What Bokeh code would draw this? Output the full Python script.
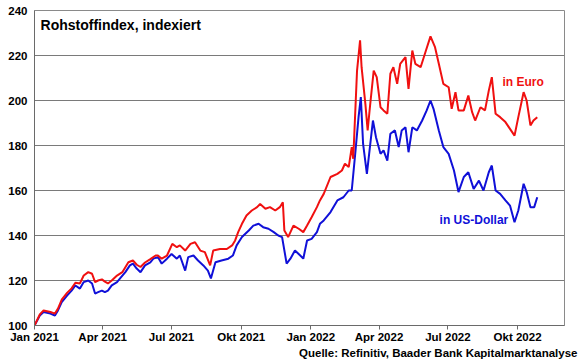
import pandas as pd
from bokeh.plotting import figure
from bokeh.models import Range1d, FixedTicker, CustomJSTickFormatter, Label, Title
from bokeh.embed import file_html
from bokeh.resources import INLINE

# ---------------- data ----------------
euro_dates = [
    "2021-01-01", "2021-01-08", "2021-01-13", "2021-01-22", "2021-01-28", "2021-02-01",
    "2021-02-06", "2021-02-13", "2021-02-19", "2021-02-24", "2021-03-02", "2021-03-07",
    "2021-03-13", "2021-03-18", "2021-03-22", "2021-03-26", "2021-03-31", "2021-04-04",
    "2021-04-08", "2021-04-13", "2021-04-20", "2021-04-27", "2021-05-05", "2021-05-11",
    "2021-05-16", "2021-05-21", "2021-05-27", "2021-06-03", "2021-06-10", "2021-06-13",
    "2021-06-18", "2021-06-25", "2021-07-02", "2021-07-08", "2021-07-12", "2021-07-19",
    "2021-07-26", "2021-08-01", "2021-08-08", "2021-08-14", "2021-08-21", "2021-08-25",
    "2021-09-03", "2021-09-12", "2021-09-19", "2021-09-23", "2021-09-27", "2021-10-02",
    "2021-10-08", "2021-10-15", "2021-10-22", "2021-10-26", "2021-11-02", "2021-11-08",
    "2021-11-15", "2021-11-21", "2021-11-25", "2021-11-27", "2021-12-02", "2021-12-09",
    "2021-12-16", "2021-12-22", "2021-12-27", "2022-01-02", "2022-01-09", "2022-01-13",
    "2022-01-18", "2022-01-27", "2022-02-05", "2022-02-11", "2022-02-15", "2022-02-20",
    "2022-02-24", "2022-02-26", "2022-03-03", "2022-03-07", "2022-03-09", "2022-03-14",
    "2022-03-17", "2022-03-20", "2022-03-25", "2022-03-29", "2022-04-03", "2022-04-07",
    "2022-04-12", "2022-04-16", "2022-04-20", "2022-04-25", "2022-04-29", "2022-05-06",
    "2022-05-10", "2022-05-15", "2022-05-19", "2022-05-26", "2022-06-02", "2022-06-08",
    "2022-06-14", "2022-06-19", "2022-06-25", "2022-07-02", "2022-07-06", "2022-07-11",
    "2022-07-15", "2022-07-22", "2022-07-28", "2022-08-02", "2022-08-06", "2022-08-13",
    "2022-08-19", "2022-08-24", "2022-08-28", "2022-09-02", "2022-09-08", "2022-09-15",
    "2022-09-21", "2022-09-27", "2022-10-02", "2022-10-09", "2022-10-13", "2022-10-18",
    "2022-10-22", "2022-10-27",
]
euro_values = [
    100.0, 104.9, 106.7, 106.0, 105.3, 107.5,
    111.5, 114.5, 116.5, 119.0, 118.7, 122.2,
    123.7, 123.0, 119.3, 120.0, 120.5, 119.5,
    118.7, 120.0, 122.2, 123.7, 128.1, 128.9,
    127.0, 126.0, 128.0, 129.5, 131.1, 131.1,
    129.7, 131.1, 136.3, 134.8, 135.6, 133.3,
    136.3, 137.0, 133.3, 132.6, 126.7, 133.3,
    134.0, 134.0, 135.6, 137.8, 141.5, 145.2,
    148.9, 151.1, 152.6, 154.0, 151.9, 152.6,
    151.1, 152.6, 154.8, 142.2, 139.3, 144.4,
    143.0, 141.5, 144.4, 148.1, 152.6, 155.6,
    158.5, 166.0, 167.4, 168.9, 171.9, 170.4,
    179.3, 174.1, 213.3, 226.7, 214.8, 198.5,
    186.7, 197.0, 213.3, 210.4, 197.0, 195.6,
    194.1, 211.9, 214.8, 207.4, 216.3, 219.3,
    205.2, 222.2, 216.3, 214.8, 222.2, 228.5,
    223.7, 216.3, 207.4, 205.9, 196.3, 203.7,
    195.6, 195.6, 202.2, 194.8, 191.1, 197.0,
    195.6, 204.4, 210.4, 194.1, 192.6, 190.4,
    187.4, 184.4, 192.6, 203.7, 200.0, 188.9,
    191.1, 192.6,
]

usd_dates = [
    "2021-01-01", "2021-01-08", "2021-01-13", "2021-01-22", "2021-01-28", "2021-02-01",
    "2021-02-06", "2021-02-13", "2021-02-19", "2021-02-24", "2021-03-02", "2021-03-07",
    "2021-03-13", "2021-03-18", "2021-03-22", "2021-03-26", "2021-03-31", "2021-04-04",
    "2021-04-08", "2021-04-13", "2021-04-20", "2021-04-24", "2021-05-01", "2021-05-07",
    "2021-05-11", "2021-05-16", "2021-05-21", "2021-05-27", "2021-06-03", "2021-06-07",
    "2021-06-13", "2021-06-18", "2021-06-25", "2021-07-01", "2021-07-08", "2021-07-12",
    "2021-07-19", "2021-07-23", "2021-07-30", "2021-08-05", "2021-08-12", "2021-08-18",
    "2021-08-22", "2021-08-28", "2021-09-05", "2021-09-14", "2021-09-20", "2021-09-25",
    "2021-10-02", "2021-10-11", "2021-10-17", "2021-10-24", "2021-10-30", "2021-11-06",
    "2021-11-13", "2021-11-19", "2021-11-24", "2021-11-30", "2021-12-05", "2021-12-11",
    "2021-12-18", "2021-12-22", "2021-12-27", "2022-01-02", "2022-01-09", "2022-01-13",
    "2022-01-18", "2022-01-27", "2022-02-05", "2022-02-13", "2022-02-20", "2022-02-24",
    "2022-03-01", "2022-03-05", "2022-03-08", "2022-03-11", "2022-03-16", "2022-03-20",
    "2022-03-24", "2022-03-28", "2022-04-03", "2022-04-07", "2022-04-12", "2022-04-16",
    "2022-04-22", "2022-04-27", "2022-05-01", "2022-05-06", "2022-05-10", "2022-05-15",
    "2022-05-21", "2022-05-28", "2022-06-03", "2022-06-08", "2022-06-12", "2022-06-19",
    "2022-06-25", "2022-07-02", "2022-07-09", "2022-07-15", "2022-07-22", "2022-07-28",
    "2022-08-04", "2022-08-11", "2022-08-17", "2022-08-24", "2022-08-28", "2022-09-02",
    "2022-09-08", "2022-09-15", "2022-09-21", "2022-09-27", "2022-10-02", "2022-10-09",
    "2022-10-13", "2022-10-18", "2022-10-23", "2022-10-27",
]
usd_values = [
    100.0, 104.4, 106.0, 105.3, 104.4, 106.7,
    110.4, 113.3, 115.5, 117.8, 116.4, 119.3,
    120.0, 118.7, 114.2, 114.8, 115.5, 114.8,
    115.5, 117.8, 119.3, 120.9, 123.7, 126.7,
    127.5, 125.3, 123.7, 126.7, 128.1, 129.7,
    130.4, 127.5, 129.7, 131.8, 129.7, 131.1,
    124.4, 130.4, 131.1, 128.9, 126.7, 124.4,
    120.9, 128.1, 128.9, 129.7, 131.1, 135.6,
    139.3, 142.2, 144.4, 145.2, 143.7, 143.0,
    141.5, 140.0, 139.3, 127.5, 129.7, 133.3,
    131.1, 129.7, 137.8, 138.5, 141.5, 145.2,
    146.7, 150.4, 155.6, 157.0, 160.0, 160.0,
    177.8, 192.6, 201.5, 180.7, 167.4, 179.3,
    191.1, 183.7, 176.3, 177.8, 173.3, 185.2,
    186.7, 179.3, 186.7, 188.1, 177.0, 188.1,
    186.7, 191.1, 195.6, 200.0, 196.3, 186.7,
    179.3, 176.3, 168.9, 159.3, 166.0, 168.1,
    160.7, 164.4, 160.0, 168.1, 171.1, 160.0,
    158.5, 155.6, 153.3, 145.9, 151.1, 163.0,
    159.3, 152.6, 152.6, 157.0,
]

tick_dates = ["2021-01-01", "2021-04-01", "2021-07-01", "2021-10-01",
              "2022-01-01", "2022-04-01", "2022-07-01", "2022-10-01"]
tick_labels = ["Jan 2021", "Apr 2021", "Jul 2021", "Okt 2021",
               "Jan 2022", "Apr 2022", "Jul 2022", "Okt 2022"]
y_ticks = [100, 120, 140, 160, 180, 200, 220, 240]

title_text = "Rohstoffindex, indexiert"
source_text = "Quelle: Refinitiv, Baader Bank Kapitalmarktanalyse"
euro_label = "in Euro"
usd_label = "in US-Dollar"

# ---------------- figure ----------------
RED = "#f01010"
BLUE = "#1010d8"
FONT = "Liberation Sans"

euro_x = pd.to_datetime(euro_dates)
usd_x = pd.to_datetime(usd_dates)
tick_ms = [float(pd.Timestamp(d).value // 10**6) for d in tick_dates]

p = figure(width=580, height=359, x_axis_type="datetime",
           output_backend="svg", toolbar_location=None,
           x_range=Range1d(pd.Timestamp("2021-01-01"), pd.Timestamp("2022-12-02")),
           y_range=Range1d(100, 240),
           min_border_left=34, min_border_right=16, min_border_top=10, min_border_bottom=34)

p.background_fill_color = "white"
p.border_fill_color = "white"
p.outline_line_color = "#8a8a8a"
p.outline_line_width = 1

p.xgrid.grid_line_color = None
p.ygrid.grid_line_color = "#7a7a7a"
p.ygrid.grid_line_width = 1

p.line(usd_x, usd_values, line_color=BLUE, line_width=2)
p.line(euro_x, euro_values, line_color=RED, line_width=2)

# axes
p.yaxis.ticker = FixedTicker(ticks=y_ticks)
p.yaxis.major_tick_out = 0
p.yaxis.major_tick_in = 0
p.yaxis.minor_tick_line_color = None
p.yaxis.axis_line_color = "#6a6a6a"
p.yaxis.major_label_standoff = 7
p.yaxis.major_label_text_font = FONT
p.yaxis.major_label_text_font_style = "bold"
p.yaxis.major_label_text_font_size = "11.5px"
p.yaxis.major_label_text_color = "black"

p.xaxis.ticker = FixedTicker(ticks=tick_ms)
p.xaxis.formatter = CustomJSTickFormatter(
    args=dict(tvals=tick_ms, tlabels=tick_labels),
    code="const i = tvals.indexOf(tick); return i >= 0 ? tlabels[i] : '';")
p.xaxis.major_tick_out = 4
p.xaxis.major_tick_in = 0
p.xaxis.major_tick_line_color = "#6a6a6a"
p.xaxis.minor_tick_line_color = None
p.xaxis.axis_line_color = "#6a6a6a"
p.xaxis.major_label_standoff = 1
p.xaxis.major_label_text_font = FONT
p.xaxis.major_label_text_font_style = "bold"
p.xaxis.major_label_text_font_size = "11.5px"
p.xaxis.major_label_text_color = "black"

# texts
p.add_layout(Label(x=pd.Timestamp("2021-01-09"), y=233.5, text=title_text,
                   text_font=FONT, text_font_style="bold", text_font_size="14px",
                   text_color="black", text_baseline="middle"))
p.add_layout(Label(x=pd.Timestamp("2022-09-11"), y=208.4, text=euro_label,
                   text_font=FONT, text_font_style="bold", text_font_size="12px",
                   text_color=RED, text_baseline="middle"))
p.add_layout(Label(x=pd.Timestamp("2022-06-20"), y=147.1, text=usd_label,
                   text_font=FONT, text_font_style="bold", text_font_size="12px",
                   text_color=BLUE, text_baseline="middle"))
p.add_layout(Title(text=source_text, align="right", vertical_align="middle",
                   text_font=FONT, text_font_style="bold", text_font_size="11.5px",
                   text_color="black", standoff=0, offset=-13), "below")

open("out.html", "w").write(file_html(p, INLINE))
